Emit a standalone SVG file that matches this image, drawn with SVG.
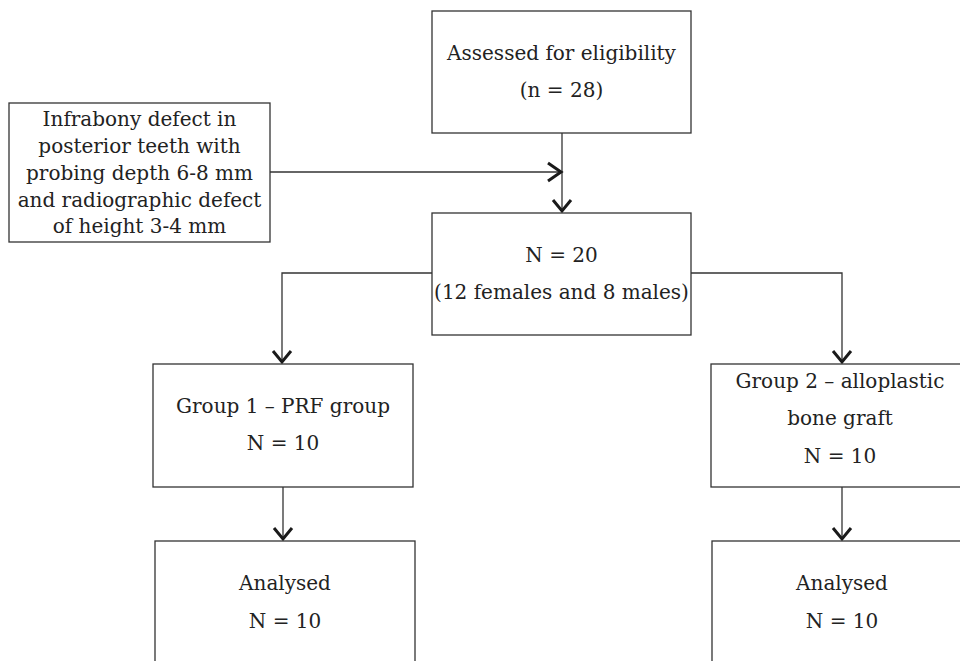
<svg xmlns="http://www.w3.org/2000/svg" width="960" height="661" viewBox="0 0 960 661">
<style>
.box{fill:#fff;stroke:#333;stroke-width:1.3}
.t{font-family:"DejaVu Serif","Liberation Serif",serif;font-size:20px;fill:#222;text-anchor:middle}
.ln{fill:none;stroke:#333;stroke-width:1.3}
.hd{fill:none;stroke:#1a1a1a;stroke-width:3;stroke-linejoin:miter}
</style>
<rect width="960" height="661" fill="#fff"/>
<g id="connectors">
<path class="ln" d="M562 133V211"/>
<path class="ln" d="M270 172H561"/>
<path class="ln" d="M432 273H282V362"/>
<path class="ln" d="M691 273H842V362"/>
<path class="ln" d="M283 487V539"/>
<path class="ln" d="M842 487V539"/>
<path class="hd" d="M548 163L561 172L548 181"/>
<path class="hd" d="M553 200L562 211L571 200"/>
<path class="hd" d="M273 351L282 362L291 351"/>
<path class="hd" d="M833 351L842 362L851 351"/>
<path class="hd" d="M274 528L283 539L292 528"/>
<path class="hd" d="M833 528L842 539L851 528"/>
</g>
<g id="n1"><rect class="box" x="432" y="11" width="259" height="122"/>
<text class="t" x="561.5" y="60">Assessed for eligibility</text>
<text class="t" x="561.5" y="97">(n = 28)</text></g>
<g id="n2"><rect class="box" x="9" y="103" width="261" height="139"/>
<text class="t" x="139.5" y="126">Infrabony defect in</text>
<text class="t" x="139.5" y="153">posterior teeth with</text>
<text class="t" x="139.5" y="180">probing depth 6-8 mm</text>
<text class="t" x="139.5" y="207">and radiographic defect</text>
<text class="t" x="139.5" y="233">of height 3-4 mm</text></g>
<g id="n3"><rect class="box" x="432" y="213" width="259" height="122"/>
<text class="t" x="561.5" y="262">N = 20</text>
<text class="t" x="561.5" y="299">(12 females and 8 males)</text></g>
<g id="n4"><rect class="box" x="153" y="364" width="260" height="123"/>
<text class="t" x="283" y="413">Group 1 – PRF group</text>
<text class="t" x="283" y="450">N = 10</text></g>
<g id="n5"><rect class="box" x="711" y="364" width="262" height="123"/>
<text class="t" x="840" y="388">Group 2 – alloplastic</text>
<text class="t" x="840" y="425">bone graft</text>
<text class="t" x="840" y="463">N = 10</text></g>
<g id="n6"><rect class="box" x="155" y="541" width="260" height="140"/>
<text class="t" x="285" y="590">Analysed</text>
<text class="t" x="285" y="628">N = 10</text></g>
<g id="n7"><rect class="box" x="712" y="541" width="262" height="140"/>
<text class="t" x="842" y="590">Analysed</text>
<text class="t" x="842" y="628">N = 10</text></g>
</svg>
